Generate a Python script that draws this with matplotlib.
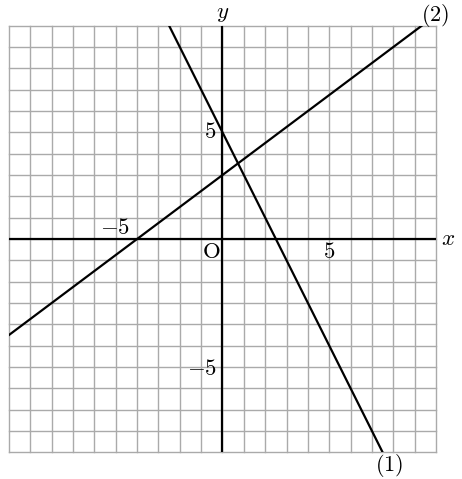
import matplotlib
matplotlib.use("Agg")
import matplotlib.pyplot as plt
import numpy as np

plt.rcParams['mathtext.fontset'] = 'cm'
plt.rcParams['font.family'] = 'DejaVu Serif'

# Line equations y = m x + b
slopes = [-2, 0.75]
intercepts = [5, 3]
line_labels = ['(1)', '(2)']
# label anchor (x, y) for each line label
label_x = [7.8, 9.95]
label_y = [-10.6, 10.5]

grid_min, grid_max = -10, 10

fig = plt.figure(figsize=(4.62, 4.79), dpi=100)
ax = fig.add_axes([9/462, 1 - 452.3/479, (436 - 9)/462, (452.3 - 25.7)/479])
ax.set_xlim(grid_min, grid_max)
ax.set_ylim(grid_min, grid_max)

ticks = np.arange(grid_min, grid_max + 1)
ax.set_xticks(ticks)
ax.set_yticks(ticks)
ax.tick_params(length=0, labelbottom=False, labelleft=False)
ax.grid(True, color='#aaaaaa', lw=1.0)
for s in ax.spines.values():
    s.set_visible(False)
for gl in ax.get_xgridlines() + ax.get_ygridlines():
    gl.set_clip_on(False)

ax.axhline(0, color='black', lw=1.6, zorder=3)
ax.axvline(0, color='black', lw=1.6, zorder=3)

xs = np.array([grid_min, grid_max], dtype=float)
for m, b, lab, lx, ly in zip(slopes, intercepts, line_labels, label_x, label_y):
    ax.plot(xs, m * xs + b, color='black', lw=1.6, zorder=4)
    ax.text(lx, ly, f'${lab}$', ha='center', va='center', fontsize=16, clip_on=False)

fs = 16.5
ax.text(0, 10.6, '$y$', ha='center', va='center', fontsize=fs, clip_on=False)
ax.text(10.55, 0, '$x$', ha='center', va='center', fontsize=fs, clip_on=False)
ax.text(-0.55, -0.6, r'$\mathrm{O}$', ha='center', va='center', fontsize=fs)
ax.text(5, -0.6, '$5$', ha='center', va='center', fontsize=fs)
ax.text(-5.05, 0.5, '$-5$', ha='center', va='center', fontsize=fs)
ax.text(-0.6, 5.0, '$5$', ha='center', va='center', fontsize=fs)
ax.text(-0.95, -6.1, '$-5$', ha='center', va='center', fontsize=fs)

fig.savefig('out.png', dpi=100)
